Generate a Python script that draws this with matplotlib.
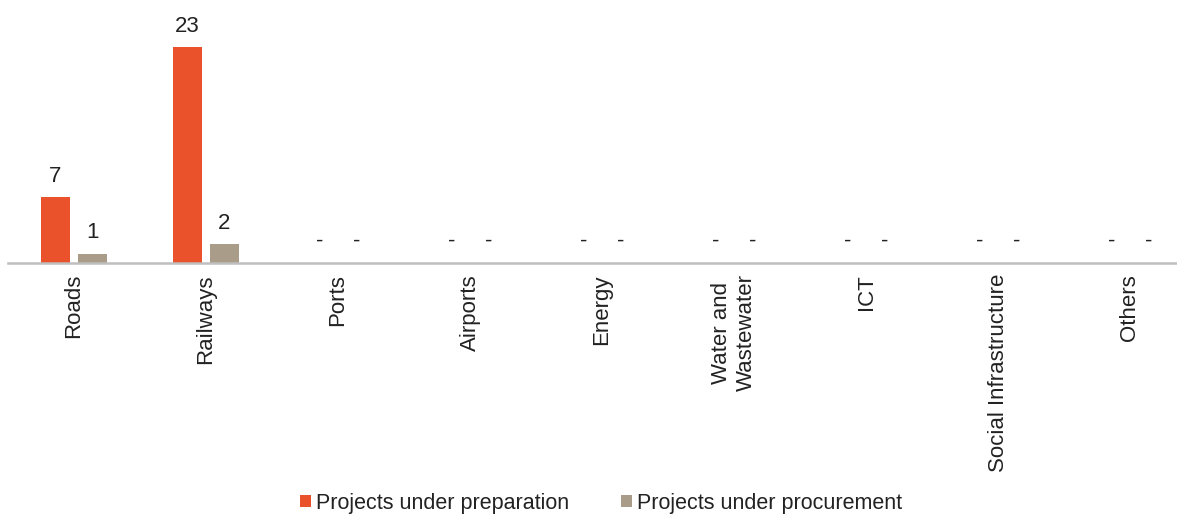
import matplotlib
matplotlib.use("Agg")
import matplotlib.pyplot as plt
import numpy as np

plt.rcParams['font.family'] = ['Liberation Sans', 'DejaVu Sans']

# projects by sector
categories = ["Roads", "Railways", "Ports", "Airports", "Energy",
              "Water and\nWastewater", "ICT", "Social Infrastructure", "Others"]
preparation = [7, 23, None, None, None, None, None, None, None]
procurement = [1, 2, None, None, None, None, None, None, None]

orange = "#E9522B"
taupe = "#A99C88"
txt = "#222222"
fs = 16

fig = plt.figure(figsize=(11.77, 5.14), dpi=100)
ax = fig.add_axes([8/1177, (514-263)/514, 1 - 8/1177, 263/514])

x = np.arange(len(categories))
off = 0.14
w = 0.225

def clean(v):
    return [0 if a is None else a for a in v]

b1 = ax.bar(x - off, clean(preparation), w, color=orange, label="Projects under preparation")
b2 = ax.bar(x + off, clean(procurement), w, color=taupe, label="Projects under procurement")

for xs, vals in ((x - off, preparation), (x + off, procurement)):
    for xi, v in zip(xs, vals):
        if v is None:
            ax.text(xi, 2.3, "-", ha="center", va="center", fontsize=fs, color=txt)
        else:
            ax.text(xi, v + 1.1, str(v), ha="center", va="bottom", fontsize=fs, color=txt)

ax.set_xlim(-0.5, (1177 - 8) / 132 - 0.5)
ax.set_ylim(0, 28)
for s in ["top", "right", "left"]:
    ax.spines[s].set_visible(False)
ax.spines["bottom"].set_color("#BFBFBF")
ax.spines["bottom"].set_linewidth(1.8)
ax.set_yticks([])
ax.set_xticks(x)
ax.set_xticklabels(categories, rotation=90, fontsize=fs, color=txt,
                   va="top", ha="center", multialignment="center")
ax.tick_params(axis="x", length=0, pad=8)

fig.legend(handles=[b1, b2], loc="center", bbox_to_anchor=(601/1177, 1 - 503/514),
           ncol=2, frameon=False, fontsize=15.5, handlelength=0.5, handleheight=0.5,
           handletextpad=0.25, columnspacing=2.4, labelcolor=txt)

fig.savefig("out.png", dpi=100)
